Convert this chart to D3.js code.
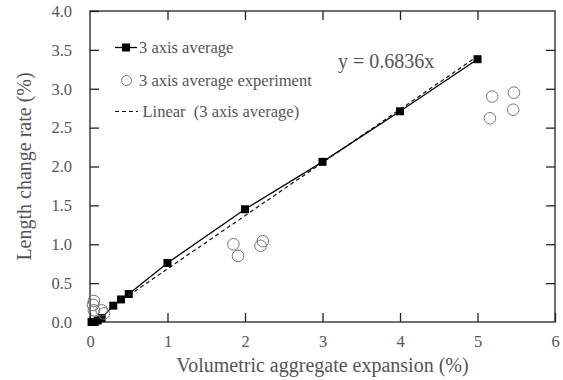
<!DOCTYPE html>
<html><head><meta charset="utf-8">
<script src="https://cdn.jsdelivr.net/npm/d3@7"></script>
<style>body{margin:0;background:#fff}svg{display:block}text{font-family:"Liberation Serif","Times New Roman",serif}</style>
</head><body>
<script>
const avgX = [0.02, 0.06, 0.1, 0.15, 0.3, 0.4, 0.5, 1, 2, 3, 4, 5];
const avgY = [0.0, 0.0, 0.02, 0.05, 0.21, 0.29, 0.36, 0.76, 1.45, 2.06, 2.71, 3.38];
const expX = [0.05, 0.04, 0.05, 0.15, 0.18, 1.85, 1.91, 2.2, 2.23, 5.19, 5.16, 5.47, 5.46];
const expY = [0.27, 0.22, 0.15, 0.15, 0.11, 1.0, 0.85, 0.98, 1.04, 2.90, 2.62, 2.95, 2.73];
const slope = 0.6836;
const fitRange = [0.5, 5];
const xTicks = [0, 1, 2, 3, 4, 5, 6];
const yTicks = [0, 0.5, 1, 1.5, 2, 2.5, 3, 3.5, 4];

const W = 563, H = 380;
const m = {l: 90, r: 555, t: 11, b: 322};
const svg = d3.select("body").append("svg").attr("width", W).attr("height", H);
const x = d3.scaleLinear().domain([0, 6]).range([m.l, m.r]);
const y = d3.scaleLinear().domain([0, 4]).range([m.b, m.t]);
const txt = "#555";
const ax = "#222";

// frame
svg.append("rect").attr("x", m.l).attr("y", m.t).attr("width", m.r - m.l).attr("height", m.b - m.t)
  .attr("fill", "none").attr("stroke", ax).attr("stroke-width", 1.3);

const tl = 9;
function styleAxis(g) {
  g.select(".domain").remove();
  g.selectAll(".tick line").attr("stroke", ax).attr("stroke-width", 1.3);
  g.selectAll("text").attr("fill", txt).attr("font-size", 16.5);
}
svg.append("g").attr("transform", `translate(0,${m.b})`)
  .call(d3.axisBottom(x).tickValues(xTicks).tickSize(-tl).tickPadding(13).tickFormat(d3.format("d")))
  .call(styleAxis);
svg.append("g").attr("transform", `translate(0,${m.t})`)
  .call(d3.axisTop(x).tickValues(xTicks.slice(1, -1)).tickSize(-tl).tickFormat(""))
  .call(styleAxis);
svg.append("g").attr("transform", `translate(${m.l},0)`)
  .call(d3.axisLeft(y).tickValues(yTicks).tickSize(-tl).tickPadding(18).tickFormat(d3.format(".1f")))
  .call(styleAxis);
svg.append("g").attr("transform", `translate(${m.r},0)`)
  .call(d3.axisRight(y).tickValues(yTicks.slice(1, -1)).tickSize(-tl).tickFormat(""))
  .call(styleAxis);

// linear fit
svg.append("line").attr("x1", x(fitRange[0])).attr("y1", y(slope * fitRange[0]))
  .attr("x2", x(fitRange[1])).attr("y2", y(slope * fitRange[1]))
  .attr("stroke", "#111").attr("stroke-width", 1.2).attr("stroke-dasharray", "4,3");

// avg line
const avg = avgX.map((v, i) => [v, avgY[i]]);
svg.append("path").datum(avg).attr("d", d3.line().x(d => x(d[0])).y(d => y(d[1])))
  .attr("fill", "none").attr("stroke", "#000").attr("stroke-width", 1.3);
svg.selectAll(".sq").data(avg).enter().append("rect")
  .attr("x", d => x(d[0]) - 4).attr("y", d => y(d[1]) - 4).attr("width", 8).attr("height", 8).attr("fill", "#000");

// experiment circles
const exp = expX.map((v, i) => [v, expY[i]]);
svg.selectAll(".ci").data(exp).enter().append("circle")
  .attr("cx", d => x(d[0])).attr("cy", d => y(d[1])).attr("r", 5.8)
  .attr("fill", "none").attr("stroke", "#777").attr("stroke-width", 1);

// legend
const fs = 16.5;
const lg = svg.append("g");
lg.append("line").attr("x1", 115).attr("x2", 137).attr("y1", 47.5).attr("y2", 47.5).attr("stroke", "#000").attr("stroke-width", 1.3);
lg.append("rect").attr("x", 122).attr("y", 43.5).attr("width", 8).attr("height", 8).attr("fill", "#000");
lg.append("text").attr("x", 139).attr("y", 53).text("3 axis average").attr("fill", txt).attr("font-size", fs);
lg.append("circle").attr("cx", 126.5).attr("cy", 80.5).attr("r", 5).attr("fill", "none").attr("stroke", "#777");
lg.append("text").attr("x", 139).attr("y", 86).text("3 axis average experiment").attr("fill", txt).attr("font-size", fs);
lg.append("line").attr("x1", 115).attr("x2", 138).attr("y1", 111.5).attr("y2", 111.5).attr("stroke", "#111").attr("stroke-width", 1.2).attr("stroke-dasharray", "4,3");
lg.append("text").attr("x", 142.5).attr("y", 117).text("Linear  (3 axis average)").attr("fill", txt).attr("font-size", fs).style("white-space", "pre");

// equation
svg.append("text").attr("x", 338).attr("y", 68).text("y = 0.6836x").attr("fill", txt).attr("font-size", 20);

// axis titles
svg.append("text").attr("x", (m.l + m.r) / 2).attr("y", 372).attr("text-anchor", "middle")
  .text("Volumetric aggregate expansion (%)").attr("fill", txt).attr("font-size", 20);
svg.append("text").attr("transform", `translate(31,${(m.t + m.b) / 2}) rotate(-90)`).attr("text-anchor", "middle")
  .text("Length change rate (%)").attr("fill", txt).attr("font-size", 20);
</script>
</body></html>
